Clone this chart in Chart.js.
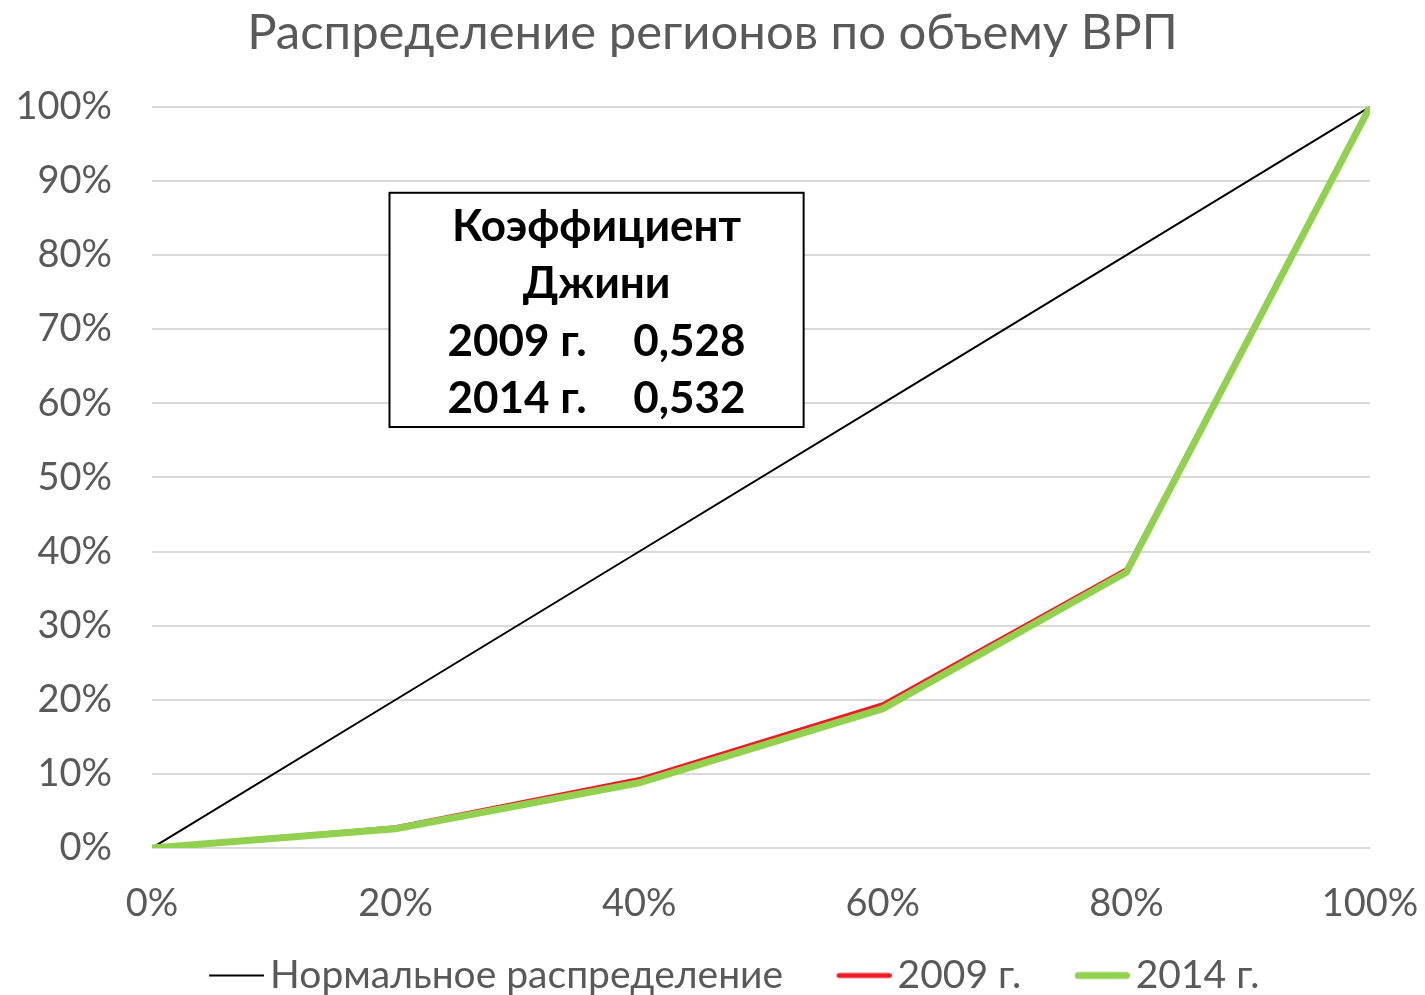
<!DOCTYPE html>
<html>
<head>
<meta charset="utf-8">
<script src="https://cdn.jsdelivr.net/npm/chart.js@4/dist/chart.umd.min.js"></script>
<style>
  html, body { margin: 0; padding: 0; background: #fff; }
  #wrap { width: 1425px; height: 995px; }
</style>
</head>
<body>
<div id="wrap"><canvas id="LineChart"></canvas></div>
<script>
const shares = [0, 20, 40, 60, 80, 100];
const normal = [0, 20, 40, 60, 80, 100];
const y2009 = [0, 2.8, 9.3, 19.4, 37.6, 100];
const y2014 = [0, 2.6, 8.8, 18.8, 37.2, 100];
const seriesNames = ["Нормальное распределение", "2009 г.", "2014 г."];
const giniLines = ["Коэффициент", "Джини", ["2009 г.", "0,528"], ["2014 г.", "0,532"]];

const FONT = "Lato, 'Open Sans', sans-serif";
const grey = "#595959";

const toPts = arr => arr.map((v, i) => ({ x: shares[i], y: v }));

// legend marks: short line at the right end of a wider transparent canvas
const BOX_W = 85;
function legendMark(color, width, cap) {
  const c = document.createElement("canvas");
  c.width = BOX_W + 27;
  c.height = 12;
  const g = c.getContext("2d");
  g.strokeStyle = color;
  g.lineWidth = width;
  g.lineCap = cap;
  const inset = cap === "round" ? width / 2 : 0;
  g.beginPath();
  g.moveTo(c.width - 55 + inset, 6);
  g.lineTo(c.width - inset, 6);
  g.stroke();
  return c;
}

// box with Gini values
const giniBox = {
  id: "giniBox",
  afterDatasetsDraw(chart) {
    const { ctx, scales: { x, y } } = chart;
    const l = x.getPixelForValue(19.5), r = x.getPixelForValue(53.5);
    const t = y.getPixelForValue(88.4), b = y.getPixelForValue(56.8);
    ctx.save();
    ctx.fillStyle = "#fff";
    ctx.fillRect(l, t, r - l, b - t);
    ctx.strokeStyle = "#000";
    ctx.lineWidth = 2;
    ctx.strokeRect(l, t, r - l, b - t);
    ctx.fillStyle = "#000";
    ctx.font = "bold 44px " + FONT;
    ctx.textBaseline = "middle";
    const cx = (l + r) / 2;
    const step = 57.3;
    giniLines.forEach((ln, i) => {
      const yy = t + 34 + i * step;
      if (Array.isArray(ln)) {
        ctx.textAlign = "left";
        ctx.fillText(ln[0], l + 58, yy);
        ctx.textAlign = "right";
        ctx.fillText(ln[1], r - 58, yy);
      } else {
        ctx.textAlign = "center";
        ctx.fillText(ln, cx, yy);
      }
    });
    ctx.restore();
  }
};

const data = {
  datasets: [
    {
      label: seriesNames[0],
      data: toPts(normal),
      borderColor: "#000000",
      backgroundColor: "#000000",
      borderWidth: 2,
      pointRadius: 0,
      order: 3,
    },
    {
      label: seriesNames[1],
      data: toPts(y2009),
      borderColor: "#ED1C24",
      backgroundColor: "#ED1C24",
      borderWidth: 4,
      borderCapStyle: "round",
      pointRadius: 0,
      order: 2,
    },
    {
      label: seriesNames[2],
      data: toPts(y2014),
      borderColor: "#92D050",
      backgroundColor: "#92D050",
      borderWidth: 7,
      borderCapStyle: "round",
      pointRadius: 0,
      order: 1,
    },
  ],
};

const legendMarks = [
  legendMark("#000000", 2, "butt"),
  legendMark("#ED1C24", 5, "round"),
  legendMark("#92D050", 7, "round"),
];

const config = {
  type: "line",
  data,
  plugins: [giniBox],
  options: {
    responsive: true,
    maintainAspectRatio: false,
    animation: false,
    layout: { padding: { left: 0, right: 0, top: 0, bottom: -10 } },
    scales: {
      x: {
        type: "linear",
        min: 0,
        max: 100,
        border: { display: false },
        grid: { display: false, drawTicks: false },
        ticks: {
          stepSize: 20,
          padding: 33,
          color: grey,
          font: { family: FONT, size: 38 },
          callback: v => v + "%",
        },
        afterFit: s => { s.height = 98; s.paddingRight = 55; s.paddingLeft = 0; },
      },
      y: {
        min: 0,
        max: 100,
        border: { display: false },
        grid: { color: "#d9d9d9", lineWidth: 2, drawTicks: false },
        ticks: {
          stepSize: 10,
          padding: 40,
          color: grey,
          font: { family: FONT, size: 38 },
          callback: v => v + "%",
        },
        afterFit: s => { s.width = 152; },
      },
    },
    plugins: {
      title: {
        display: true,
        text: "Распределение регионов по объему ВРП",
        color: grey,
        font: { family: FONT, size: 49, weight: "normal" },
        padding: { top: 4, bottom: 44 },
      },
      legend: {
        position: "bottom",
        labels: {
          usePointStyle: true,
          pointStyleWidth: BOX_W,
          color: grey,
          font: { family: FONT, size: 39 },
          padding: 10,
          generateLabels: chart =>
            Chart.defaults.plugins.legend.labels.generateLabels(chart)
              .map(it => ({ ...it, pointStyle: legendMarks[it.datasetIndex] })),
          sort: (a, b) => a.datasetIndex - b.datasetIndex,
        },
      },
      tooltip: { enabled: false },
    },
  },
};

const LineChart = new Chart(document.getElementById("LineChart"), config);
</script>
</body>
</html>
